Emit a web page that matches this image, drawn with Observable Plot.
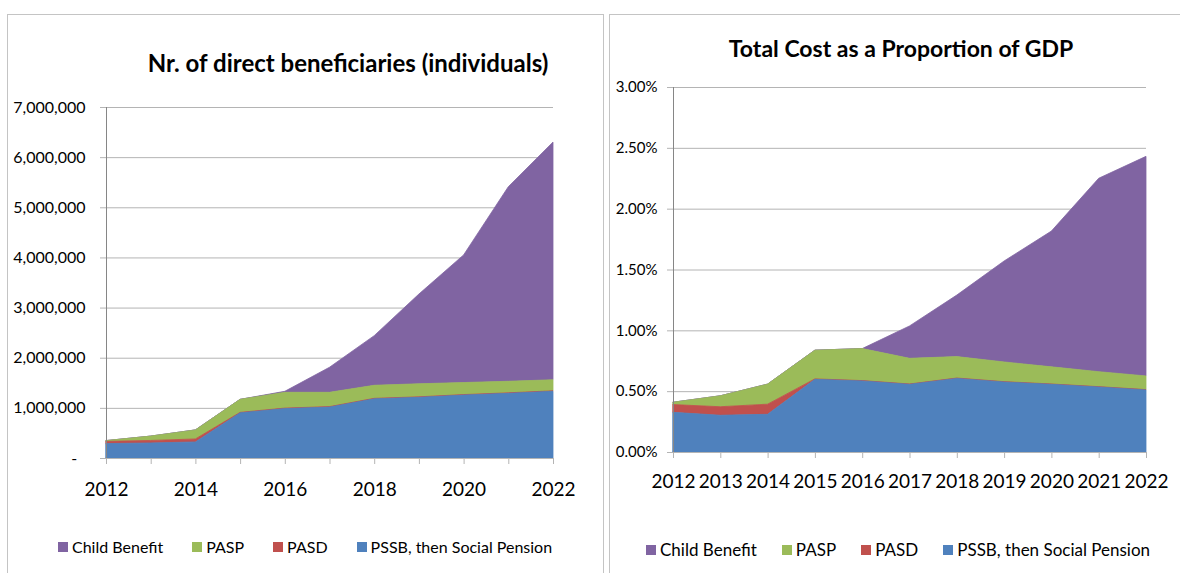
<!DOCTYPE html>
<html>
<head>
<meta charset="utf-8">
<script src="https://cdn.jsdelivr.net/npm/d3@7"></script>
<script src="https://cdn.jsdelivr.net/npm/@observablehq/plot@0.6"></script>
<style>
  html, body { margin: 0; padding: 0; background: #fff; }
  body { font-family: Lato, "Open Sans", sans-serif; }
  #root { position: relative; width: 1180px; height: 573px; overflow: hidden; background: #fff; }
  .frame { position: absolute; border: 1px solid #c4c4c4; background: #fff; }
  .title { position: absolute; font-weight: bold; font-size: 23px; color: #000; white-space: nowrap; transform: translate(-50%, -50%); }
  .chart { position: absolute; top: 0; }
  .legend { position: absolute; display: flex; align-items: center; white-space: nowrap; color: #000; }
  .legend .item { display: flex; align-items: center; }
  .legend .sw { display: inline-block; width: 10px; height: 10px; margin-right: 4px; }
</style>
</head>
<body>
<div id="root">
  <div class="frame" style="left:7px; top:14px; width:595px; height:600px;"></div>
  <div class="frame" style="left:609px; top:14px; width:600px; height:600px;"></div>
  <div class="title" id="t1" style="left:348px; top:62px; font-size:24px;"></div>
  <div class="title" id="t2" style="left:901px; top:48px;"></div>
  <div class="chart" id="c1" style="left:0px;"></div>
  <div class="chart" id="c2" style="left:600px;"></div>
  <div class="legend" id="l1" style="left:58px; top:537px; font-size:16px; gap:29px;"></div>
  <div class="legend" id="l2" style="left:646px; top:539px; font-size:17px; gap:25px;"></div>
</div>
<script>
// ---------- data ----------
const years = [2012, 2013, 2014, 2015, 2016, 2017, 2018, 2019, 2020, 2021, 2022];
const seriesNames = ["Child Benefit", "PASP", "PASD", "PSSB, then Social Pension"];
const seriesColors = ["#8064A2", "#9BBB59", "#C0504D", "#4F81BD"];

const titleBeneficiaries = "Nr. of direct beneficiaries (individuals)";
const titleCost = "Total Cost as a Proportion of GDP";

// Number of direct beneficiaries (individuals)
const benChild = [0, 0, 0, 0, 20000, 500000, 990000, 1790000, 2545000, 3880000, 4740000];
const benPASP  = [15000, 87000, 180000, 260000, 315000, 285000, 260000, 260000, 240000, 230000, 220000];
const benPASD  = [45000, 50000, 60000, 10000, 10000, 10000, 10000, 10000, 10000, 10000, 10000];
const benPSSB  = [287000, 300000, 320000, 900000, 985000, 1015000, 1180000, 1210000, 1255000, 1290000, 1330000];
const benTicks = [0, 1000000, 2000000, 3000000, 4000000, 5000000, 6000000, 7000000];

// Total cost as % of GDP
const gdpChild = [0, 0, 0, 0, 0, 0.266, 0.506, 0.83, 1.116, 1.59, 1.805];
const gdpPASP  = [0.019, 0.09, 0.165, 0.236, 0.263, 0.211, 0.176, 0.162, 0.141, 0.123, 0.112];
const gdpPASD  = [0.064, 0.07, 0.083, 0.004, 0.003, 0.003, 0.003, 0.003, 0.003, 0.003, 0.003];
const gdpPSSB  = [0.326, 0.302, 0.31, 0.597, 0.584, 0.556, 0.605, 0.575, 0.556, 0.534, 0.51];
const gdpTicks = [0, 0.5, 1, 1.5, 2, 2.5, 3];

// ---------- build tidy tables ----------
function tidy(arrs) {
  const out = [];
  seriesNames.forEach((s, i) => {
    years.forEach((y, j) => out.push({ year: y, series: s, value: arrs[i][j] }));
  });
  return out;
}
const benData = tidy([benChild, benPASP, benPASD, benPSSB]);
const gdpData = tidy([gdpChild, gdpPASP, gdpPASD, gdpPSSB]);
const stackOrder = seriesNames.slice().reverse(); // bottom first

const gridColor = "#b4b4b4";
const axisColor = "#868686";
const fontFamily = "Lato, 'Open Sans', sans-serif";

function makeChart(opts) {
  return Plot.plot({
    width: opts.width,
    height: 510,
    marginLeft: opts.ml,
    marginRight: opts.mr,
    marginTop: opts.mt,
    marginBottom: opts.mb,
    style: { fontFamily, color: "#000", background: "transparent", overflow: "visible" },
    x: { domain: [2012, 2022] },
    y: { domain: opts.yDomain },
    color: { domain: seriesNames, range: seriesColors },
    marks: [
      Plot.gridY(opts.yTicks, { stroke: gridColor, strokeOpacity: 1 }),
      Plot.areaY(opts.data, {
        x: "year", y: "value", z: "series", fill: "series", stroke: "series",
        strokeWidth: 0.8, order: stackOrder
      }),
      Plot.ruleY([opts.yDomain[0]], { stroke: gridColor }),
      Plot.ruleX([2012], { stroke: axisColor }),
      Plot.axisY(opts.yTicks, {
        tickSize: 6, tickPadding: opts.yPad, stroke: gridColor, fill: "#000",
        fontSize: opts.yFont, tickFormat: opts.yFormat, label: null
      }),
      Plot.axisX(years, {
        tickSize: 6, tickPadding: opts.xPad, stroke: gridColor, fill: "#000",
        fontSize: 19, tickFormat: opts.xFormat, label: null
      })
    ]
  });
}

const c1 = makeChart({
  width: 600, ml: 106, mr: 47, mt: 107, mb: 52,
  yDomain: [0, 7000000], yTicks: benTicks, data: benData,
  yPad: 15, yFont: 16, xPad: 18,
  yFormat: d => d === 0 ? "-\u00a0\u00a0" : d3.format(",")(d),
  xFormat: d => d % 2 === 0 ? String(d) : ""
});
const c2 = makeChart({
  width: 580, ml: 73, mr: 34, mt: 87, mb: 58,
  yDomain: [0, 3], yTicks: gdpTicks, data: gdpData,
  yPad: 10, yFont: 15, xPad: 16,
  yFormat: d => d.toFixed(2) + "%",
  xFormat: d => String(d)
});
document.getElementById("c1").appendChild(c1);
document.getElementById("c2").appendChild(c2);
document.getElementById("t1").textContent = titleBeneficiaries;
document.getElementById("t2").textContent = titleCost;

function legend(id) {
  const el = document.getElementById(id);
  seriesNames.forEach((s, i) => {
    const item = document.createElement("span");
    item.className = "item";
    const sw = document.createElement("span");
    sw.className = "sw";
    sw.style.background = seriesColors[i];
    const tx = document.createElement("span");
    tx.textContent = s;
    item.appendChild(sw);
    item.appendChild(tx);
    el.appendChild(item);
  });
}
legend("l1");
legend("l2");
</script>
</body>
</html>
